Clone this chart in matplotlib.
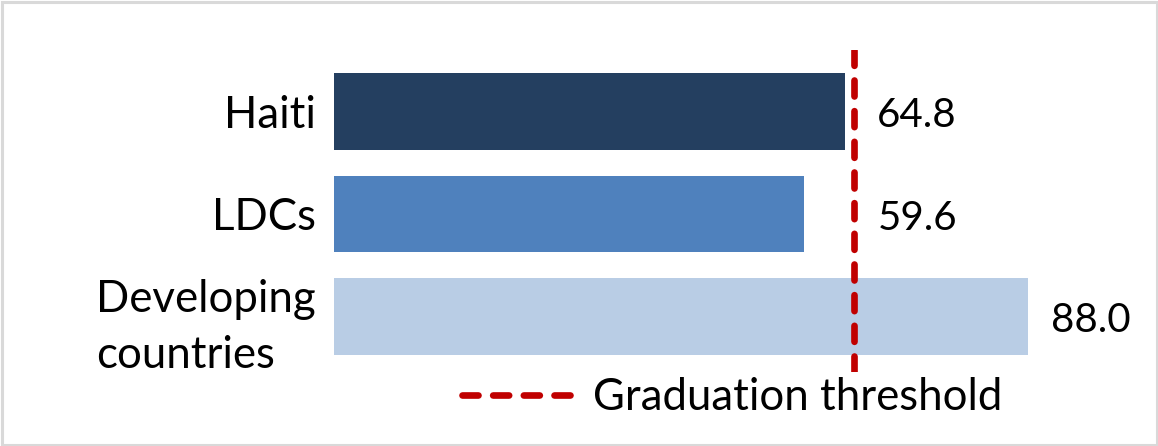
import matplotlib
matplotlib.use("Agg")
import matplotlib.pyplot as plt
from matplotlib.lines import Line2D
from matplotlib.patches import Rectangle

categories = ["Haiti", "LDCs", "Developing\ncountries"]
values = [64.8, 59.6, 88.0]
value_labels = ["64.8", "59.6", "88.0"]
colors = ["#243F60", "#4F81BD", "#B9CDE5"]
threshold = 66.0
legend_label = "Graduation threshold"

plt.rcParams['font.family'] = ['Lato', 'DejaVu Sans']

W, H = 1158, 446
fig = plt.figure(figsize=(W / 100, H / 100), dpi=100)

# axes placement in pixels
x0_px, x100_px = 334, 334 + 7.886 * 100
top_px, bot_px = 50, 372
ax = fig.add_axes([x0_px / W, 1 - bot_px / H, (x100_px - x0_px) / W, (bot_px - top_px) / H])

ypos = list(range(len(categories)))
ax.barh(ypos, values, height=0.75, color=colors, zorder=2)
ax.set_xlim(0, 100)
# bar centers at 111.5, 214, 316.5 px -> 102.5 px per unit
ytop = (top_px - 111.5) / 102.5
ybot = (bot_px - 111.5) / 102.5
ax.set_ylim(ybot, ytop)

ax.axvline(threshold, color="#C00000", lw=4.8, dashes=(2.4, 2.2),
           dash_capstyle="round", zorder=3)

for y, v, lab in zip(ypos, values, value_labels):
    ax.text(max(v, threshold) + 2.9, y + 0.04, lab, va="center", ha="left",
            fontsize=29, color="black")

ax.set_yticks(ypos)
ax.set_yticklabels(categories, fontsize=31.5, multialignment="left",
                   linespacing=1.45)
ax.tick_params(axis="y", length=0, pad=13)
ax.set_xticks([])
for s in ax.spines.values():
    s.set_visible(False)

handle = Line2D([], [], color="#C00000", lw=4.8, dashes=(2.4, 2.2),
                dash_capstyle="round")
fig.legend([handle], [legend_label], loc="center left",
           bbox_to_anchor=(462 / W, 1 - 398 / H), frameon=False,
           fontsize=31.5, handlelength=2.75, handletextpad=0.25,
           borderpad=0, borderaxespad=0)

fig.patches.append(Rectangle((1.5 / W, 1.5 / H), (W - 3) / W, (H - 3) / H,
                             transform=fig.transFigure, fill=False,
                             edgecolor="#D9D9D9", lw=2.2, zorder=10))

fig.savefig("out.png", dpi=100, facecolor="white")
